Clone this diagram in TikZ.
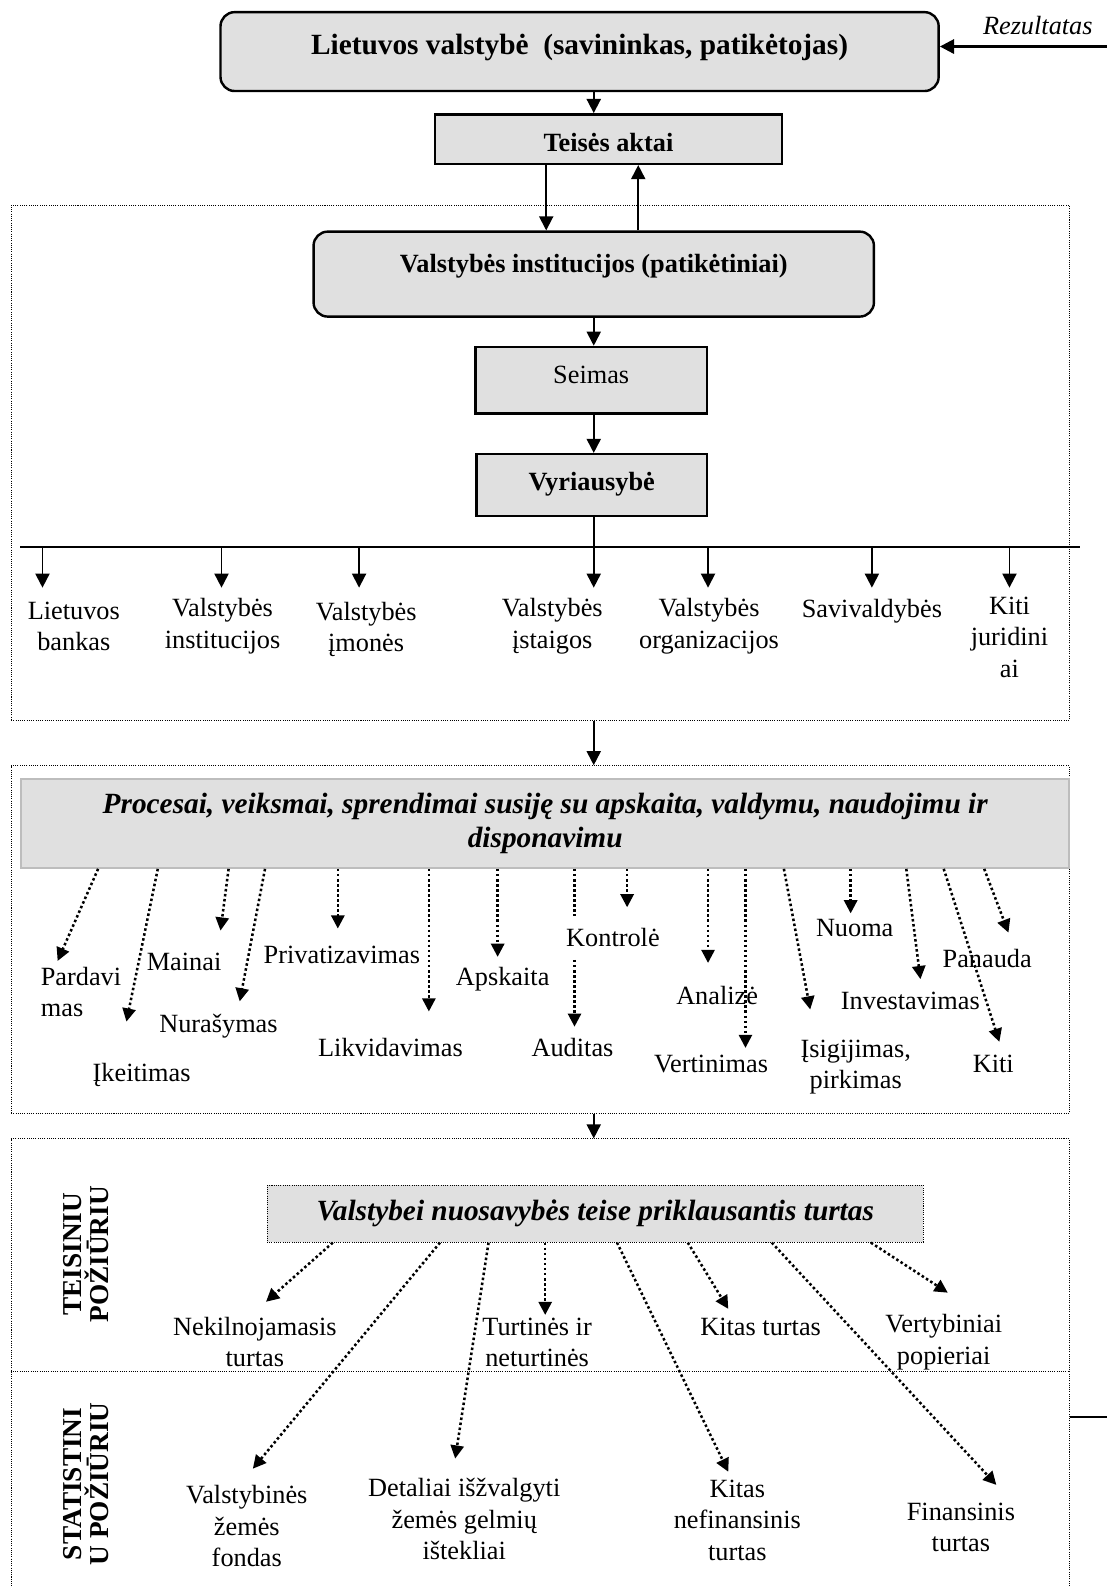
\documentclass[tikz,border=0pt]{standalone}
\usepackage{fontspec}
\setmainfont{Liberation Serif}
\usetikzlibrary{arrows.meta}
\definecolor{boxgray}{HTML}{E0E0E0}
\definecolor{edgegray}{HTML}{BDBDBD}
\begin{document}
\begin{tikzpicture}[x=0.5pt,y=-0.5pt,
  txt/.style={font=\fontsize{13}{15.5}\selectfont, align=center, inner sep=0pt},
  boxn/.style={draw, line width=1.2pt, fill=boxgray, inner sep=0pt, font=\fontsize{13}{15.5}\selectfont\bfseries},
  rbox/.style={boxn, rounded corners=7pt},
  arr/.style={-{Triangle[length=7pt,width=7pt]}, line width=0.9pt},
  darr/.style={-{Triangle[length=6.5pt,width=6.5pt]}, line width=1.25pt, dash pattern=on 1.25pt off 1.25pt},
  frame/.style={draw, line width=0.5pt, dash pattern=on 0.5pt off 0.6pt, inner sep=0pt}
]
\useasboundingbox (0,0) rectangle (1094,1568);
\fill[white] (0,0) rectangle (1094,1568);
\coordinate (axis) at (587,0);

% ---------- top part ----------
\node[rbox, minimum width=355pt, minimum height=39pt, text height=10pt, text depth=7pt,
      font=\fontsize{14.5}{17}\selectfont\bfseries] (top) at (573,51) {Lietuvos valstybė\ \ (savininkas, patikėtojas)};
\node[txt, font=\fontsize{13}{15.5}\selectfont\itshape] (rez) at (1026,25) {Rezultatas};
\coordinate (rezS) at (1094,46);
\draw[arr, line width=1.3pt] (rezS) -- (top.east |- rezS);

\node[boxn, minimum width=171.5pt, minimum height=24.5pt, text height=12pt, text depth=0pt] (teises) at (601.5,137.5) {Teisės aktai};
\draw[arr] (top.south -| axis) -- (teises.north -| axis);

\node[frame, minimum width=523pt, minimum height=254.5pt] (f1) at (534,457.5) {};

\node[rbox, minimum width=277pt, minimum height=42pt, text height=9.5pt, text depth=11pt] (vi) at (587,271) {Valstybės institucijos (patikėtiniai)};
\coordinate (dn) at (540,0);
\coordinate (up) at (631,0);
\draw[arr] (teises.south -| dn) -- (vi.north -| dn);
\draw[arr] (vi.north -| up) -- (teises.south -| up);

\node[boxn, minimum width=114.5pt, minimum height=33pt, text height=9.5pt, text depth=6pt,
      font=\fontsize{13}{15.5}\selectfont] (seimas) at (584.5,376) {Seimas};
\node[boxn, minimum width=114pt, minimum height=30.5pt, text height=9.5pt, text depth=4.5pt] (vyr) at (585,479.5) {Vyriausybė};
\draw[arr] (vi.south -| axis) -- (seimas.north -| axis);
\draw[arr] (seimas.south -| axis) -- (vyr.north -| axis);

\coordinate (busL) at (20,541);
\coordinate (busR) at (1068,541);
\draw[line width=1.1pt] (busL) -- (busR);
\draw[line width=0.9pt] (vyr.south -| axis) -- (axis |- busL);
\foreach \n/\x in {1/42,2/219,3/355,4/587,5/700,6/862,7/998}{
  \coordinate (bt\n) at (\x,581);
  \draw[arr] (bt\n |- busL) -- (bt\n);
}
\node[txt] (l1) at (73,619) {Lietuvos\\bankas};
\node[txt] (l2) at (220,619) {Valstybės\\institucijos};
\node[txt] (l3) at (362,622) {Valstybės\\įmonės};
\node[txt] (l4) at (546,619) {Valstybės\\įstaigos};
\node[txt] (l5) at (701,619) {Valstybės\\organizacijos};
\node[txt] (l6) at (862,604) {Savivaldybės};
\node[txt] (l7) at (998,630) {Kiti\\juridini\\ai};

% ---------- processes ----------
\node[frame, minimum width=523pt, minimum height=172pt] (f2) at (534,929) {};
\draw[arr] (f1.south -| axis) -- (f2.north -| axis);
\node[draw=edgegray, line width=1pt, fill=boxgray, minimum width=518pt, minimum height=44pt, inner sep=0pt,
      align=center, font=\fontsize{14.5}{16.5}\selectfont\bfseries\itshape] (proc) at (539,814)
      {Procesai, veiksmai, sprendimai susiję su apskaita, valdymu, naudojimu ir\\disponavimu};

\node[txt, align=left, anchor=west] (pard) at (40,981) {Pardavi\\mas};
\node[txt] (ikeit) at (140,1063) {Įkeitimas};
\node[txt] (main) at (182,951) {Mainai};
\node[txt] (nuras) at (216,1015) {Nurašymas};
\node[txt] (priv) at (338,944) {Privatizavimas};
\node[txt] (likv) at (386,1036) {Likvidavimas};
\node[txt] (apsk) at (497,968) {Apskaita};
\node[txt] (audit) at (566,1036) {Auditas};
\node[txt] (anal) at (709,984) {Analizė};
\node[txt] (vert) at (703,1052) {Vertinimas};
\node[txt] (isig) at (846,1055) {Įsigijimas,\\pirkimas};
\node[txt] (nuoma) at (845,917) {Nuoma};
\node[txt] (inv) at (900,990) {Investavimas};
\node[txt] (pan) at (976,948) {Panauda};
\node[txt] (kiti) at (982,1052) {Kiti};

\foreach \n/\sx/\tx/\ty in {1/97/57/950, 2/156/125/1010, 3/226/218/920, 4/262/237/990,
  5/334/334/918, 6/424/424/1000, 7/492/492/946, 8/568/568/1015, 9/620/620/897,
  10/700/700/952, 11/737/737/1036, 12/775/801/998, 13/841/841/903, 14/896/910/968,
  15/933/988/1030, 16/973/997/922}{
  \coordinate (ps\n) at (\sx,0);
  \coordinate (pt\n) at (\tx,\ty);
  \draw[darr] (proc.south -| ps\n) -- (pt\n);
}
\node[txt, fill=white, inner xsep=1pt, inner ysep=6pt] (kontr) at (606,927) {Kontrolė};

% ---------- assets ----------
\node[frame, minimum width=523pt, minimum height=237pt] (f3) at (534,1363) {};
\draw[arr] (f2.south -| axis) -- (f3.north -| axis);
\coordinate (divy) at (0,1356);
\draw[line width=0.5pt, dash pattern=on 0.5pt off 0.6pt] (f3.west |- divy) -- (f3.east |- divy);
\coordinate (inR) at (1094,1401);
\draw[line width=1.1pt] (inR) -- (f3.east |- inR);

\node[rotate=90, align=center, inner sep=0pt, font=\fontsize{13.5}{13}\selectfont\bfseries] (teis) at (85,1240) {TEISINIU\\POŽIŪRIU};
\node[rotate=90, align=center, inner sep=0pt, font=\fontsize{13.5}{13}\selectfont\bfseries] (stat) at (85,1467) {STATISTINI\\U POŽIŪRIU};

\node[frame, fill=boxgray, minimum width=324.5pt, minimum height=28pt,
      font=\fontsize{14.5}{16.5}\selectfont\bfseries\itshape] (turtas) at (588.5,1200) {Valstybei nuosavybės teise priklausantis turtas};

\node[txt] (nek) at (252,1327) {Nekilnojamasis\\turtas};
\node[txt] (turt) at (531,1327) {Turtinės ir\\neturtinės};
\node[txt] (kitt) at (752,1312) {Kitas turtas};
\node[txt] (vertp) at (933,1327) {Vertybiniai\\popieriai};
\node[txt] (vzf) at (244,1509) {Valstybinės\\žemės\\fondas};
\node[txt] (det) at (459,1502) {Detaliai išžvalgyti\\žemės gelmių\\ištekliai};
\node[txt] (kitn) at (729,1503) {Kitas\\nefinansinis\\turtas};
\node[txt] (fin) at (950,1510) {Finansinis\\turtas};

\foreach \n/\sx/\tx/\ty in {1/329/263/1287, 2/435/250/1452, 3/483/450/1442, 4/539/539/1300,
  5/610/720/1455, 6/680/720/1294, 7/763/985/1468, 8/861/937/1278}{
  \coordinate (ts\n) at (\sx,0);
  \coordinate (tt\n) at (\tx,\ty);
  \draw[darr] (turtas.south -| ts\n) -- (tt\n);
}
\end{tikzpicture}
\end{document}
